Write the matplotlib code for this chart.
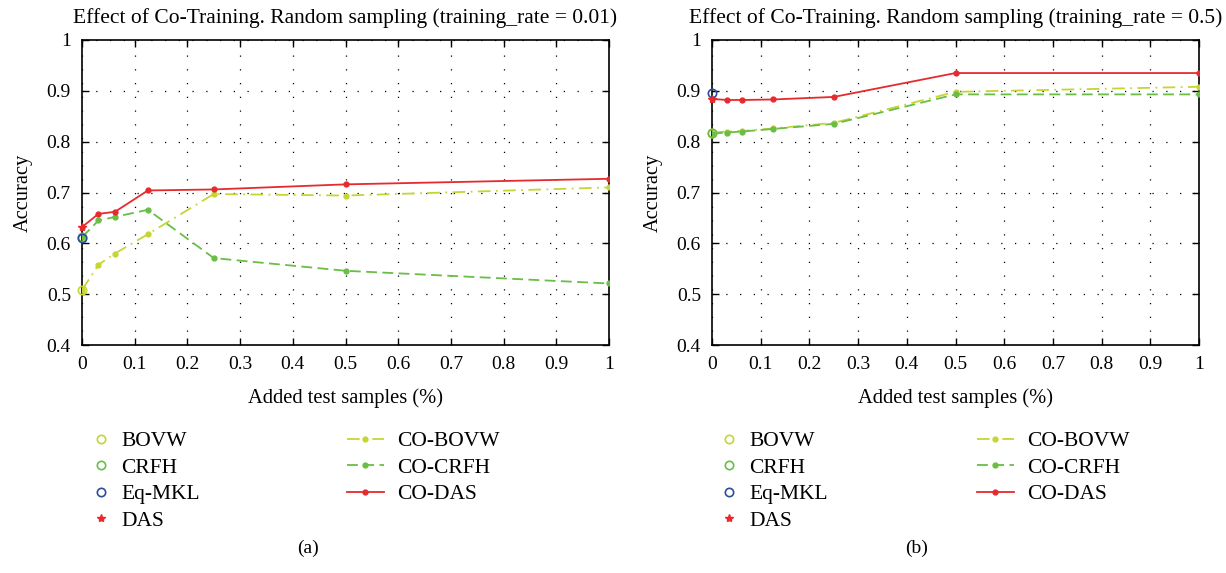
import matplotlib
matplotlib.use("Agg")
import matplotlib.pyplot as plt

plt.rcParams['font.family'] = ['Liberation Serif', 'DejaVu Serif']

x_added = [0, 0.03125, 0.0625, 0.125, 0.25, 0.5, 1.0]
x_ticks = [0, 0.1, 0.2, 0.3, 0.4, 0.5, 0.6, 0.7, 0.8, 0.9, 1]
y_ticks = [0.4, 0.5, 0.6, 0.7, 0.8, 0.9, 1]
x_tick_labels = ['0', '0.1', '0.2', '0.3', '0.4', '0.5', '0.6', '0.7', '0.8', '0.9', '1']
y_tick_labels = ['0.4', '0.5', '0.6', '0.7', '0.8', '0.9', '1']

# (a) training_rate = 0.01
a_bovw, a_crfh, a_eqmkl, a_das = 0.508, 0.612, 0.610, 0.632
a_co_bovw = [0.508, 0.558, 0.580, 0.618, 0.697, 0.694, 0.710]
a_co_crfh = [0.612, 0.645, 0.652, 0.666, 0.571, 0.546, 0.521]
a_co_das = [0.632, 0.658, 0.662, 0.704, 0.706, 0.716, 0.727]

# (b) training_rate = 0.5
b_bovw, b_crfh, b_eqmkl, b_das = 0.818, 0.818, 0.895, 0.884
b_co_bovw = [0.818, 0.820, 0.821, 0.826, 0.837, 0.898, 0.908]
b_co_crfh = [0.816, 0.818, 0.820, 0.825, 0.835, 0.893, 0.893]
b_co_das = [0.884, 0.882, 0.882, 0.883, 0.888, 0.935, 0.935]

titles = ["Effect of Co-Training. Random sampling (training_rate = 0.01)",
          "Effect of Co-Training. Random sampling (training_rate = 0.5)"]
panel_labels = ["(a)", "(b)"]

C_BOVW = '#c5d634'
C_CRFH = '#6abd45'
C_EQ = '#2b4d9c'
C_DAS = '#e62a2e'

W, H = 1226, 573
fig = plt.figure(figsize=(W / 100, H / 100), dpi=100)

def px(x0, y0, x1, y1):
    return [x0 / W, 1 - y1 / H, (x1 - x0) / W, (y1 - y0) / H]

axes_px = [(82, 40, 609, 345), (712, 40, 1199, 345)]
datasets = [
    (a_bovw, a_crfh, a_eqmkl, a_das, a_co_bovw, a_co_crfh, a_co_das),
    (b_bovw, b_crfh, b_eqmkl, b_das, b_co_bovw, b_co_crfh, b_co_das),
]
legend_pos = [(92, 347), (720, 977)]
panel_x = [308, 917]

fs_leg = 15.5
for i, (rect, d) in enumerate(zip(axes_px, datasets)):
    bovw, crfh, eq, das, cob, coc, cod = d
    ax = fig.add_axes(px(*rect))
    l1, = ax.plot(x_added, cob, linestyle=(0, (7, 3, 1, 3)), color=C_BOVW, lw=1.3,
                  marker='o', ms=3.5, label='CO-BOVW', zorder=3)
    l2, = ax.plot(x_added, coc, linestyle=(0, (6, 3)), color=C_CRFH, lw=1.3,
                  marker='o', ms=3.5, label='CO-CRFH', zorder=3)
    l3, = ax.plot(x_added, cod, linestyle='-', color=C_DAS, lw=1.3,
                  marker='o', ms=3.5, label='CO-DAS', zorder=4)
    p1, = ax.plot([0], [bovw], linestyle='none', marker='o', mfc='none', mec=C_BOVW,
                  ms=6, mew=1.2, label='BOVW', clip_on=False, zorder=5)
    p2, = ax.plot([0], [crfh], linestyle='none', marker='o', mfc='none', mec=C_CRFH,
                  ms=6, mew=1.2, label='CRFH', clip_on=False, zorder=5)
    p3, = ax.plot([0], [eq], linestyle='none', marker='o', mfc='none', mec=C_EQ,
                  ms=6, mew=1.2, label='Eq-MKL', clip_on=False, zorder=5)
    p4, = ax.plot([0], [das], linestyle='none', marker='*', color=C_DAS,
                  ms=6, label='DAS', clip_on=False, zorder=6)

    ax.set_xlim(0, 1)
    ax.set_ylim(0.4, 1)
    ax.set_xticks(x_ticks)
    ax.set_yticks(y_ticks)
    ax.set_xticklabels(x_tick_labels)
    ax.set_yticklabels(y_tick_labels)
    ax.tick_params(direction='in', top=True, right=True, length=5, width=1,
                   labelsize=14, pad=8)
    ax.grid(True, linestyle=(0, (1, 10)), color='black', linewidth=0.9)
    for s in ax.spines.values():
        s.set_linewidth(1.2)
    ax.set_title(titles[i], fontsize=15.5, pad=12)
    ax.set_xlabel('Added test samples (%)', fontsize=14.8, labelpad=11)
    ax.set_ylabel('Accuracy', fontsize=14.8, labelpad=10)

    start1, start2 = legend_pos[i]
    top = 431
    fig.legend(handles=[p1, p2, p3, p4], loc='upper left',
               bbox_to_anchor=(start1 / W, 1 - top / H), frameon=False,
               fontsize=fs_leg, handlelength=0.85, handletextpad=0.5,
               borderpad=0, borderaxespad=0, labelspacing=0.3, numpoints=1)
    fig.legend(handles=[l1, l2, l3], loc='upper left',
               bbox_to_anchor=(start2 / W, 1 - top / H), frameon=False,
               fontsize=fs_leg, handlelength=1.7, handletextpad=0.65,
               borderpad=0, borderaxespad=0, labelspacing=0.3)
    fig.text(panel_x[i] / W, 1 - 548 / H, panel_labels[i], ha='center', va='center',
             fontsize=14)

fig.savefig('out.png', dpi=100)
